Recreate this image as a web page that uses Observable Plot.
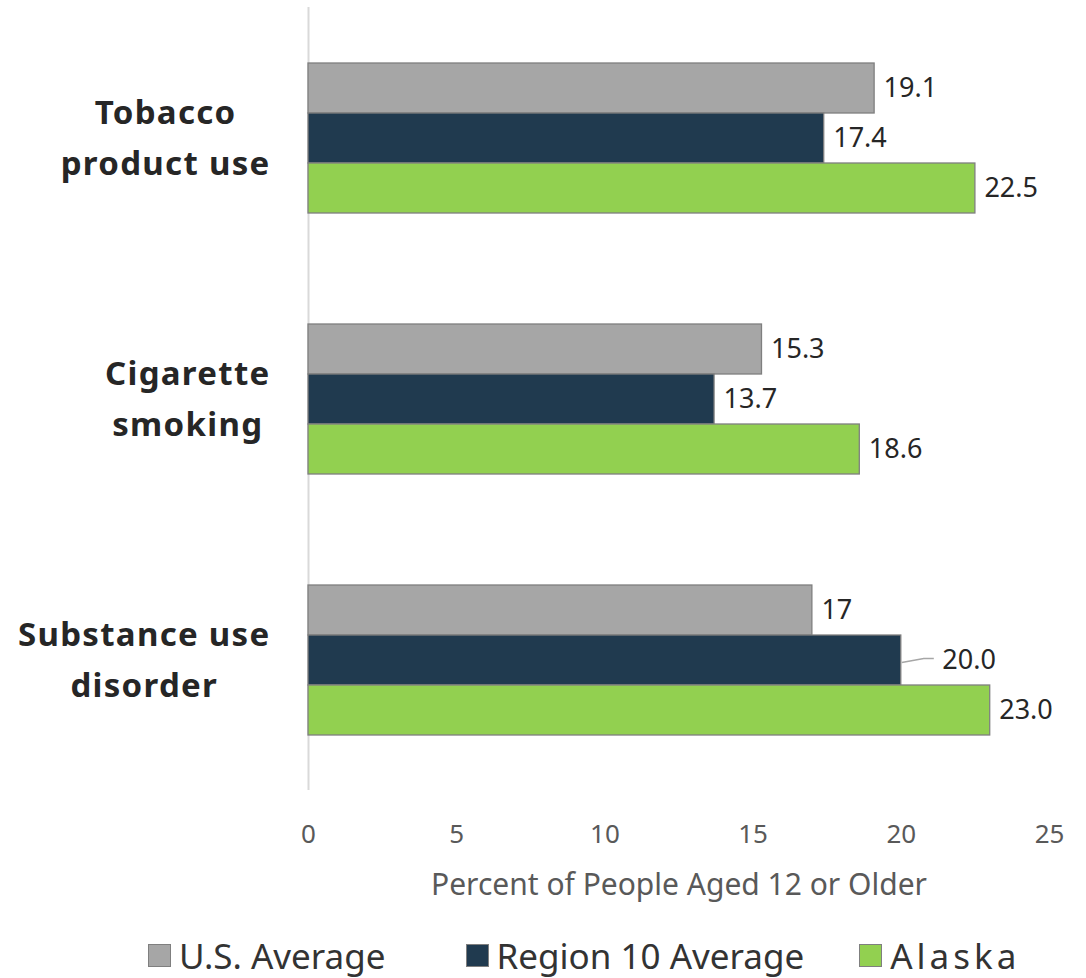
<!DOCTYPE html>
<html>
<head>
<meta charset="utf-8">
<script src="https://cdn.jsdelivr.net/npm/d3@7"></script>
<script src="https://cdn.jsdelivr.net/npm/@observablehq/plot@0.6"></script>
<style>
  html, body { margin: 0; padding: 0; background: #fff; }
  body { width: 1086px; font-family: "Noto Sans", sans-serif; }
  #legend { display: flex; align-items: center; margin-top: 18px; padding-left: 148px; height: 44px; font-size: 35px; color: #333; white-space: nowrap; }
  #legend .item { display: flex; align-items: center; }
  #legend .sw { width: 23px; height: 23px; box-sizing: border-box; border: 1.5px solid #7f7f7f; margin-right: 8px; }
</style>
</head>
<body>
<div id="chart"></div>
<div id="legend"></div>
<script>
// ---- data ----
const categories = ["Tobacco product use", "Cigarette smoking", "Substance use disorder"];
const categoryLabels = ["Tobacco\nproduct use", "Cigarette\nsmoking", "Substance use\ndisorder"];
const series = ["U.S. Average", "Region 10 Average", "Alaska"];
const seriesColors = ["#a6a6a6", "#203a4f", "#92d050"];
const usAverage = [19.1, 15.3, 17];
const region10Average = [17.4, 13.7, 20.0];
const alaska = [22.5, 18.6, 23.0];
const usLabels = ["19.1", "15.3", "17"];
const region10Labels = ["17.4", "13.7", "20.0"];
const alaskaLabels = ["22.5", "18.6", "23.0"];
const leaderLabels = [{category: "Substance use disorder", series: "Region 10 Average"}];
const xTicks = [0, 5, 10, 15, 20, 25];
const xTitle = "Percent of People Aged 12 or Older";

// ---- table ----
const valuesBySeries = [usAverage, region10Average, alaska];
const labelsBySeries = [usLabels, region10Labels, alaskaLabels];
const data = [];
categories.forEach((c, i) => series.forEach((s, j) => data.push({
  category: c, series: s, value: valuesBySeries[j][i], label: labelsBySeries[j][i],
  leader: leaderLabels.some(l => l.category === c && l.series === s)
})));
const labelOf = Object.fromEntries(categories.map((c, i) => [c, categoryLabels[i]]));

const plot = Plot.plot({
  width: 1086,
  height: 915,
  marginTop: 7,
  marginBottom: 125,
  marginLeft: 308,
  marginRight: 37,
  style: { fontFamily: "Noto Sans, sans-serif", background: "#fff" },
  x: { domain: [0, 25], ticks: xTicks },
  y: { domain: series, paddingInner: 0, paddingOuter: 1.07, axis: null },
  fy: { domain: categories, padding: 0 },
  color: { domain: series, range: seriesColors },
  marks: [
    Plot.ruleX([0], { stroke: "#d9d9d9", strokeWidth: 2 }),
    Plot.barX(data, { x: "value", y: "series", fy: "category", fill: "series", stroke: "#7f7f7f", strokeWidth: 1.3 }),
    Plot.text(data.filter(d => !d.leader), { x: "value", y: "series", fy: "category", text: "label", textAnchor: "start", dx: 9, fontSize: 27, fill: "#262626" }),
    Plot.text(data.filter(d => d.leader), { x: "value", y: "series", fy: "category", text: "label", textAnchor: "start", dx: 41, fontSize: 27, fill: "#262626" }),
    // leader line anchor at the bar end (reshaped below into a short connector)
    Plot.ruleY(data.filter(d => d.leader), { x1: "value", x2: "value", y: "series", fy: "category", stroke: "#a6a6a6", strokeWidth: 1.5 }),
    Plot.axisX({ ticks: xTicks, tickSize: 0, tickPadding: 34, fontSize: 26, color: "#595959", label: xTitle, labelAnchor: "center", labelOffset: 104, labelArrow: "none" }),
    Plot.axisFy({ anchor: "left", tickSize: 0, tickPadding: 38, fontSize: 33, fontWeight: "bold", tickFormat: d => labelOf[d], lineHeight: 1.55, label: null, color: "#262626" })
  ]
});
document.getElementById("chart").appendChild(plot);

// leader line shape: turn the zero-length horizontal rule into a short bent connector
plot.querySelectorAll('g[aria-label="rule"] line').forEach(l => {
  const x1 = +l.getAttribute("x1"), x2 = +l.getAttribute("x2");
  const y1 = +l.getAttribute("y1"), y2 = +l.getAttribute("y2");
  if (!(y1 === y2 && Math.abs(x1 - x2) < 1)) return;
  const p = document.createElementNS("http://www.w3.org/2000/svg", "path");
  p.setAttribute("d", `M${x1 + 1},${y1 + 2}L${x1 + 23},${y1 - 2}L${x1 + 33},${y1 - 2}`);
  p.setAttribute("fill", "none");
  if (l.getAttribute("transform")) p.setAttribute("transform", l.getAttribute("transform"));
  l.parentNode.replaceChild(p, l);
});

// axis title size
plot.querySelectorAll('g[aria-label="x-axis label"] text').forEach(t => t.setAttribute("font-size", 30));

// center multi-line category labels (Excel-style), with letter spacing
plot.querySelectorAll('g[aria-label="fy-axis tick label"] text').forEach(t => {
  t.style.letterSpacing = "1.3px";
  const w = t.getBBox().width;
  t.setAttribute("text-anchor", "middle");
  t.setAttribute("transform", (t.getAttribute("transform") || "") + ` translate(${-w / 2},-5)`);
});

// legend
const legend = d3.select("#legend");
const gaps = [0, 80, 55];
const spacing = ["0px", "0px", "4px"];
series.forEach((s, i) => {
  const it = legend.append("div").attr("class", "item").style("margin-left", gaps[i] + "px");
  it.append("div").attr("class", "sw").style("background", seriesColors[i]);
  it.append("span").style("letter-spacing", spacing[i]).text(s);
});
</script>
</body>
</html>
